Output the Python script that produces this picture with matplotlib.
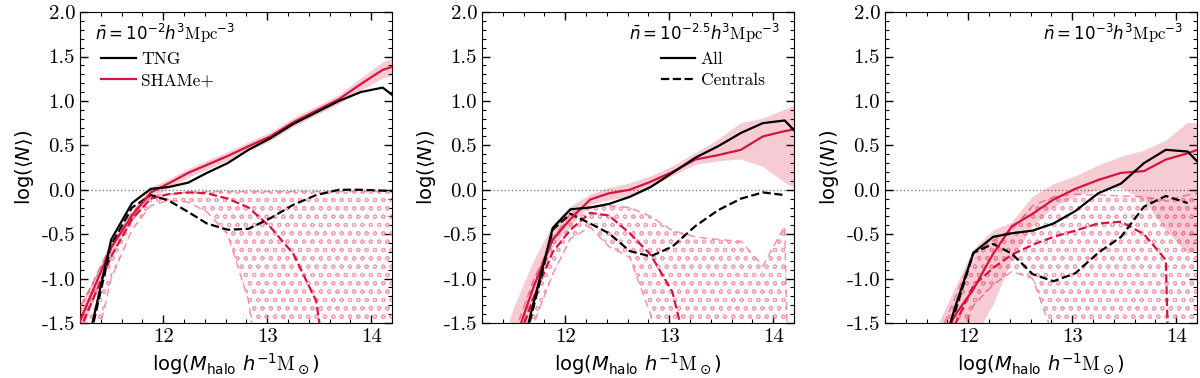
import numpy as np
import matplotlib
matplotlib.use("Agg")
import matplotlib.pyplot as plt

plt.rcParams['font.family'] = ['cmr10', 'DejaVu Serif']
plt.rcParams['mathtext.fontset'] = 'custom'
plt.rcParams['mathtext.rm'] = 'DejaVu Sans'
plt.rcParams['mathtext.it'] = 'DejaVu Sans:italic'
plt.rcParams['mathtext.sf'] = 'DejaVu Sans'
plt.rcParams['mathtext.tt'] = 'cmr10'
plt.rcParams['axes.unicode_minus'] = True

RED = '#d7143c'
PINK = (0.86, 0.08, 0.24, 0.22)
HATCH = (0.95, 0.52, 0.62, 0.75)
BOUND = (0.93, 0.45, 0.56, 0.75)
plt.rcParams['hatch.color'] = HATCH
plt.rcParams['hatch.linewidth'] = 0.8

# halo mass bins, log(M_halo / h^-1 Msun)
logm = [11.1, 11.3, 11.5, 11.7, 11.88, 12.05, 12.24, 12.42, 12.62, 12.82,
        13.03, 13.25, 13.47, 13.69, 13.9, 14.11, 14.3]
nan = np.nan

# ---- n = 1e-2
tng_all_1 = [-2.5, -1.6, -0.56, -0.15, 0.01, 0.03, 0.08, 0.19, 0.30, 0.45,
             0.58, 0.74, 0.87, 1.0, 1.1, 1.15, 0.98]
tng_cen_1 = [-2.5, -1.65, -0.62, -0.2, -0.06, -0.12, -0.25, -0.38, -0.45, -0.44,
             -0.32, -0.17, -0.06, 0.0, 0.0, -0.01, -0.02]
sh_all_1 = [-1.75, -1.2, -0.65, -0.29, -0.03, 0.07, 0.19, 0.28, 0.38, 0.49,
            0.60, 0.76, 0.89, 1.02, 1.19, 1.35, 1.42]
sh_all_lo_1 = [-2.0, -1.33, -0.73, -0.35, -0.09, 0.02, 0.14, 0.23, 0.33, 0.44,
               0.55, 0.71, 0.84, 0.97, 1.12, 1.26, 1.32]
sh_all_hi_1 = [-1.5, -1.07, -0.57, -0.23, 0.03, 0.12, 0.24, 0.33, 0.43, 0.54,
               0.65, 0.81, 0.94, 1.07, 1.26, 1.44, 1.52]
sh_cen_1 = [-1.85, -1.3, -0.75, -0.33, -0.1, -0.05, -0.03, -0.04, -0.1, -0.2,
            -0.42, -0.72, -1.25, -3.0, -3.0, -3.0, -3.0]
sh_cen_lo_1 = [-2.6, -2.0, -1.0, -0.45, -0.18, -0.12, -0.14, -0.25, -0.5, -1.25,
               -3.0, -3.0, -3.0, -3.0, -3.0, -3.0, -3.0]
sh_cen_hi_1 = [-1.55, -1.1, -0.62, -0.25, -0.07, -0.05, -0.03, -0.02, -0.02, -0.02,
               -0.02, -0.02, -0.02, -0.02, -0.02, -0.02, -0.02]

# ---- n = 10^-2.5
tng_all_2 = [-4.0, -3.0, -2.2, -1.25, -0.43, -0.22, -0.2, -0.16, -0.08, 0.03,
             0.19, 0.36, 0.49, 0.64, 0.75, 0.78, 0.55]
tng_cen_2 = [-4.0, -3.0, -2.2, -1.3, -0.45, -0.27, -0.38, -0.49, -0.69, -0.75,
             -0.64, -0.41, -0.23, -0.1, -0.03, -0.06, nan]
sh_all_2 = [-3.2, -2.4, -1.75, -1.08, -0.56, -0.33, -0.11, -0.04, 0.0, 0.09,
            0.2, 0.34, 0.39, 0.45, 0.6, 0.66, 0.7]
sh_all_lo_2 = [-3.8, -2.8, -2.0, -1.3, -0.65, -0.42, -0.17, -0.12, -0.08, 0.02,
               0.15, 0.28, 0.32, 0.34, 0.26, 0.08, -0.05]
sh_all_hi_2 = [-2.7, -2.1, -1.35, -0.8, -0.4, -0.19, -0.06, 0.02, 0.07, 0.15,
               0.26, 0.41, 0.56, 0.75, 0.8, 0.9, 1.0]
sh_cen_2 = [-3.5, -2.6, -1.85, -1.2, -0.7, -0.45, -0.26, -0.29, -0.49, -0.73,
            -1.15, -2.2, -3.0, -3.0, -3.0, -3.0, -3.0]
sh_cen_lo_2 = [-4.0, -3.0, -2.3, -1.5, -0.95, -0.55, -0.42, -0.64, -0.76, -1.4,
               -3.0, -3.0, -3.0, -3.0, -3.0, -3.0, -10.0]
sh_cen_hi_2 = [-3.3, -2.5, -1.65, -1.0, -0.55, -0.27, -0.19, -0.18, -0.2, -0.3,
               -0.46, -0.53, -0.56, -0.58, -0.86, -0.41, -10.0]

# ---- n = 1e-3
tng_all_3 = [-4.0, -3.3, -2.6, -2.0, -1.3, -0.71, -0.53, -0.49, -0.46, -0.38,
             -0.24, -0.04, 0.07, 0.3, 0.45, 0.43, 0.2]
tng_cen_3 = [-4.0, -3.3, -2.6, -2.0, -1.35, -0.71, -0.61, -0.72, -0.95, -1.03,
             -0.94, -0.71, -0.53, -0.19, -0.07, -0.15, nan]
sh_all_3 = [-3.5, -2.8, -2.2, -1.8, -1.4, -1.12, -0.72, -0.41, -0.27, -0.11,
            0.01, 0.11, 0.19, 0.21, 0.34, 0.41, 0.49]
sh_all_lo_3 = [-4.0, -3.5, -3.0, -2.4, -1.9, -1.7, -1.3, -0.8, -0.42, -0.2,
               -0.08, 0.0, 0.02, -0.12, -0.45, -0.72, -0.65]
sh_all_hi_3 = [-3.0, -2.5, -2.0, -1.55, -1.1, -0.68, -0.46, -0.37, -0.08, 0.06,
               0.15, 0.27, 0.37, 0.44, 0.55, 0.75, 0.75]
sh_cen_3 = [-3.6, -3.0, -2.4, -2.0, -1.5, -1.08, -0.88, -0.73, -0.62, -0.53,
            -0.46, -0.38, -0.36, -0.5, -0.79, -10.0, -10.0]
sh_cen_lo_3 = [-4.0, -3.5, -3.0, -2.5, -1.8, -1.3, -1.07, -0.92, -1.0, -1.65,
               -3.0, -3.0, -3.0, -3.0, -3.0, -3.0, -3.0]
sh_cen_hi_3 = [-3.4, -2.8, -2.2, -1.7, -1.2, -0.72, -0.57, -0.45, -0.18, -0.08,
               -0.05, -0.06, -0.07, -0.08, -0.12, -0.06, -0.02]

labels = [r'$\bar{n} = \mathsf{10}^{\mathsf{-2}}h^{3}\mathtt{Mpc}^{\mathsf{-3}}$',
          r'$\bar{n} = \mathsf{10}^{\mathsf{-2.5}}h^{3}\mathtt{Mpc}^{\mathsf{-3}}$',
          r'$\bar{n} = \mathsf{10}^{\mathsf{-3}}h^{3}\mathtt{Mpc}^{\mathsf{-3}}$']

panels = [
    (tng_all_1, tng_cen_1, sh_all_1, sh_all_lo_1, sh_all_hi_1, sh_cen_1, sh_cen_lo_1, sh_cen_hi_1),
    (tng_all_2, tng_cen_2, sh_all_2, sh_all_lo_2, sh_all_hi_2, sh_cen_2, sh_cen_lo_2, sh_cen_hi_2),
    (tng_all_3, tng_cen_3, sh_all_3, sh_all_lo_3, sh_all_hi_3, sh_cen_3, sh_cen_lo_3, sh_cen_hi_3),
]

fig = plt.figure(figsize=(12, 3.78), dpi=100)
lefts = [0.0667, 0.4017, 0.7375]
axes = [fig.add_axes([l, 0.1455, 0.26, 0.8225]) for l in lefts]

for i, ax in enumerate(axes):
    ta, tc, sa, sa_lo, sa_hi, sc, sc_lo, sc_hi = panels[i]
    ax.axhline(0, color='gray', ls=':', lw=1, zorder=1)
    ax.fill_between(logm, sc_lo, sc_hi, facecolor='none', edgecolor=HATCH,
                    hatch='oo', linewidth=0, zorder=2)
    ax.plot(logm, sc_lo, color=BOUND, ls=(0, (5, 3)), lw=1.1, zorder=3)
    ax.plot(logm, sc_hi, color=BOUND, ls=(0, (5, 3)), lw=1.1, zorder=3)
    ax.fill_between(logm, sa_lo, sa_hi, color=PINK, linewidth=0, zorder=3)
    ax.plot(logm, sc, color=RED, ls='--', lw=1.6, zorder=4)
    ax.plot(logm, sa, color=RED, lw=1.6, zorder=5)
    ax.plot(logm, tc, color='k', ls='--', lw=1.6, zorder=4)
    ax.plot(logm, ta, color='k', lw=1.6, zorder=5)

    ax.set_xlim(11.2, 14.2)
    ax.set_ylim(-1.5, 2.0)
    ax.set_xticks([12, 13, 14])
    ax.set_xticks(np.arange(11.2, 14.21, 0.2), minor=True)
    ax.set_yticks(np.arange(-1.5, 2.01, 0.5))
    ax.set_yticks(np.arange(-1.5, 2.01, 0.1), minor=True)
    ax.set_yticklabels(['%.1f' % v for v in np.arange(-1.5, 2.01, 0.5)])
    ax.tick_params(which='both', direction='in', top=True, right=True, labelsize=15)
    ax.tick_params(which='major', length=6, width=1)
    ax.tick_params(which='minor', length=3, width=0.8)
    ax.set_xlabel(r'log($M_{\mathsf{halo}}\ h^{-1}\mathtt{M}_\odot$)',
                  fontfamily='DejaVu Sans', fontsize=14, labelpad=4)
    ax.set_ylabel(r'log($\langle N\rangle$)', fontfamily='DejaVu Sans', fontsize=14)

# annotations and legends
axes[0].text(0.048, 0.93, labels[0], transform=axes[0].transAxes, fontsize=12,
             ha='left', va='center')
axes[1].text(0.955, 0.93, labels[1], transform=axes[1].transAxes, fontsize=12,
             ha='right', va='center')
axes[2].text(0.955, 0.93, labels[2], transform=axes[2].transAxes, fontsize=12,
             ha='right', va='center')

h1 = [plt.Line2D([], [], color='k', lw=1.6), plt.Line2D([], [], color=RED, lw=1.6)]
axes[0].legend(h1, ['TNG', 'SHAMe+'], loc='upper left', bbox_to_anchor=(0.045, 0.895),
               frameon=False, fontsize=12.5, handlelength=2.0, handletextpad=0.3,
               labelspacing=0.35, borderaxespad=0)
h2 = [plt.Line2D([], [], color='k', lw=1.6), plt.Line2D([], [], color='k', ls='--', lw=1.6)]
axes[1].legend(h2, ['All', 'Centrals'], loc='upper left', bbox_to_anchor=(0.55, 0.895),
               frameon=False, fontsize=12.5, handlelength=2.0, handletextpad=0.3,
               labelspacing=0.35, borderaxespad=0)

fig.savefig('out.png', dpi=100)
